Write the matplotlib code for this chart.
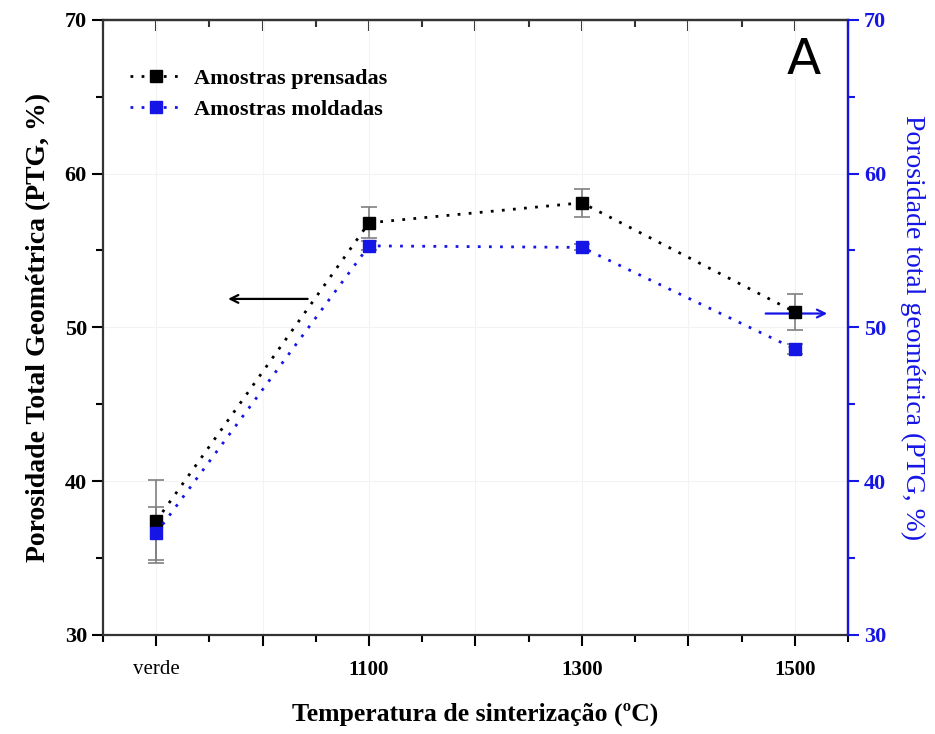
import matplotlib

matplotlib.use("Agg")
import matplotlib.pyplot as plt  # noqa: E402
from matplotlib.lines import Line2D  # noqa: E402
from matplotlib.ticker import MultipleLocator  # noqa: E402

plt.rcParams["font.family"] = ["Liberation Serif", "DejaVu Serif"]

# x positions: "verde" is placed at 900 on the numeric axis
temps = [900, 1100, 1300, 1500]
tick_pos = [900, 1000, 1100, 1200, 1300, 1400, 1500]
tick_labels = ["verde", "", "1100", "", "1300", "", "1500"]

prensadas = [37.4, 56.8, 58.1, 51.0]
prensadas_err = [2.7, 1.0, 0.9, 1.2]
moldadas = [36.6, 55.3, 55.2, 48.6]
moldadas_err = [1.7, 0.3, 0.2, 0.3]

BLUE = "#1515e6"
DOTS = (0, (1, 3))

fig = plt.figure(figsize=(9.35, 7.34), dpi=100)
ax = fig.add_axes([0.110, 0.135, 0.797, 0.838])

ax.errorbar(temps, prensadas, yerr=prensadas_err, color="black", ls=DOTS, lw=2,
            marker="s", ms=9, ecolor="0.5", elinewidth=1.2, capsize=6, capthick=1.2,
            zorder=3)
ax.errorbar(temps, moldadas, yerr=moldadas_err, color=BLUE, ls=DOTS, lw=2,
            marker="s", ms=9, ecolor="0.5", elinewidth=1.2, capsize=6, capthick=1.2,
            zorder=3)

ax.set_xlim(850, 1550)
ax.set_ylim(30, 70)
ax.set_xticks(tick_pos)
ax.set_xticklabels(tick_labels)
ax.xaxis.set_minor_locator(MultipleLocator(50))
ax.yaxis.set_major_locator(MultipleLocator(10))
ax.yaxis.set_minor_locator(MultipleLocator(5))
ax.grid(True, which="major", color="#f3f3f3", lw=0.8, zorder=0)

ax.tick_params(axis="x", which="both", direction="out", top=False, labelsize=15, pad=10)
ax.tick_params(axis="x", which="major", length=8, width=1.5)
ax.tick_params(axis="x", which="minor", length=5, width=1.5)
ax.tick_params(axis="y", which="major", direction="out", length=8, width=1.5, labelsize=16)
ax.tick_params(axis="y", which="minor", direction="out", length=5, width=1.5)
for lab in ax.get_yticklabels():
    lab.set_fontweight("bold")
for lab in ax.get_xticklabels()[1:]:
    lab.set_fontweight("bold")
for sp in ax.spines.values():
    sp.set_linewidth(1.6)
    sp.set_color("#333333")

# inward ticks along the top edge
top = ax.secondary_xaxis("top")
top.set_xticks(tick_pos)
top.xaxis.set_minor_locator(MultipleLocator(50))
top.tick_params(which="both", direction="in", labeltop=False, width=1.5, colors="#333333")
top.tick_params(which="major", length=8)
top.tick_params(which="minor", length=5)
top.spines["top"].set_linewidth(1.6)
top.spines["top"].set_color("#333333")

ax2 = ax.twinx()
ax2.set_ylim(30, 70)
ax2.yaxis.set_major_locator(MultipleLocator(10))
ax2.yaxis.set_minor_locator(MultipleLocator(5))
ax2.tick_params(axis="y", which="major", direction="out", length=8, width=1.5,
                colors=BLUE, labelsize=16)
ax2.tick_params(axis="y", which="minor", direction="out", length=5, width=1.5, colors=BLUE)
for lab in ax2.get_yticklabels():
    lab.set_fontweight("bold")
ax2.spines["right"].set_color(BLUE)
ax2.spines["right"].set_linewidth(1.6)
for s in ["left", "top", "bottom"]:
    ax2.spines[s].set_visible(False)

ax.set_xlabel("Temperatura de sinterização (ºC)", fontsize=18.5, fontweight="bold", labelpad=16)
ax.set_ylabel("Porosidade Total Geométrica (PTG, %)", fontsize=20, fontweight="bold", labelpad=10)
ax2.set_ylabel("Porosidade total geométrica (PTG, %)", fontsize=20, color=BLUE,
               rotation=270, labelpad=28)

ax.annotate("", xy=(965, 51.85), xytext=(1045, 51.85),
            arrowprops=dict(arrowstyle="->", color="black", lw=1.6, mutation_scale=14))
ax.annotate("", xy=(1533, 50.9), xytext=(1470, 50.9),
            arrowprops=dict(arrowstyle="->", color=BLUE, lw=1.6, mutation_scale=14))

ax.text(0.94, 0.935, "A", transform=ax.transAxes, fontsize=36, family="DejaVu Sans",
        ha="center", va="center")

handles = [
    Line2D([], [], color="black", ls=DOTS, lw=2, marker="s", ms=9),
    Line2D([], [], color=BLUE, ls=DOTS, lw=2, marker="s", ms=9),
]
ax.legend(handles, ["Amostras prensadas", "Amostras moldadas"], loc="upper left",
          bbox_to_anchor=(0.0, 0.965), frameon=False,
          prop={"weight": "bold", "size": 16}, handlelength=2.4, handletextpad=0.5,
          borderaxespad=0.8, labelspacing=0.5)

fig.savefig("out.png", dpi=100)
